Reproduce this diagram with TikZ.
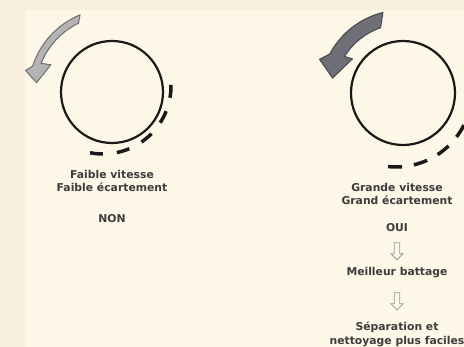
\documentclass[tikz,border=0pt]{standalone}
\usepackage{fontspec}
\setmainfont{DejaVu Sans}
\usetikzlibrary{calc,shapes.arrows}

\definecolor{bgcream}{HTML}{FDF7E7}
\definecolor{bgedge}{HTML}{F8F0DC}
\definecolor{txtgray}{HTML}{3C3C3C}
\definecolor{lightarr}{HTML}{B4B4B6}
\definecolor{lightline}{HTML}{6E6E70}
\definecolor{darkarr}{HTML}{6F6F78}
\definecolor{darkline}{HTML}{46464C}

\begin{document}
\begin{tikzpicture}[x=1pt, y=1pt,
    roller/.style={
        circle, draw=black!90, line width=2.2pt, inner sep=0pt
    },
    gapline/.style={draw=black!90, line width=3.5pt},
    lbl/.style={
        font=\bfseries\fontsize{10.8}{13.8}\selectfont,
        text=txtgray, align=center, inner sep=1pt
    },
    hollowarr/.style={
        single arrow, shape border rotate=270, draw=black!40,
        line width=0.8pt, fill=bgcream, inner sep=2.4pt,
        minimum height=17pt, single arrow head extend=3.2pt
    }
]
% background
\fill[bgedge] (0,0) rectangle (464,-347);
\fill[bgcream] (25,-10) rectangle (464,-347);
\useasboundingbox (0,0) rectangle (464,-347);
\clip (0,0) rectangle (464,-347);

% Rollers
\node[roller, minimum size=102pt] (lc) at (112,-92) {};
\node[roller, minimum size=104pt] (rc) at (403,-93) {};

% Centres of the dashed gaps
\coordinate (lgap) at ($(lc.center)+(-9,6)$);
\coordinate (rgap) at ($(rc.center)+(-7,2)$);

% Dashed gaps
\draw[gapline, dash pattern=on 13pt off 14pt]
    ($(lgap)+(-101:68)$) arc[start angle=-101, end angle=1, radius=68];
\draw[gapline, dash pattern=on 14pt off 12pt]
    ($(rgap)+(-96:76)$) arc[start angle=-96, end angle=15, radius=76];

% Rotation arrows
\begin{scope}[shift={(lc.center)}]
\filldraw[fill=lightarr, draw=lightline, line width=1pt, line join=round]
    (112.5:83.5) arc[start angle=112.5, end angle=162, radius=83.5]
    -- (166:89) -- (173:76) -- (156:67) -- (158:76.5)
    arc[start angle=158, end angle=116, radius=76.5] -- cycle;
\end{scope}
\begin{scope}[shift={(rc.center)}]
\filldraw[fill=darkarr, draw=darkline, line width=1pt, line join=round]
    (104:83) arc[start angle=104, end angle=152, radius=83]
    -- (158:90) -- (168:72) -- (146:61) -- (148:69)
    arc[start angle=148, end angle=109, radius=69] -- cycle;
\end{scope}

% Labels, left
\node[lbl] (lslow) at (112,-181) {Faible vitesse\\Faible écartement};
\node[lbl] (non) at (112,-219) {NON};

% Labels, right
\node[lbl] (rfast) at (397,-194) {Grande vitesse\\Grand écartement};
\node[lbl] (oui) at (397,-228) {OUI};
\node[lbl] (meil) at (397,-273) {Meilleur battage};
\node[lbl] (sep) at (397,-334) {Séparation et\\nettoyage plus faciles};

% Hollow arrows
\path (oui) -- node[hollowarr] (a1) {} (meil);
\path (meil) -- node[hollowarr] (a2) {} (sep);
\end{tikzpicture}
\end{document}
